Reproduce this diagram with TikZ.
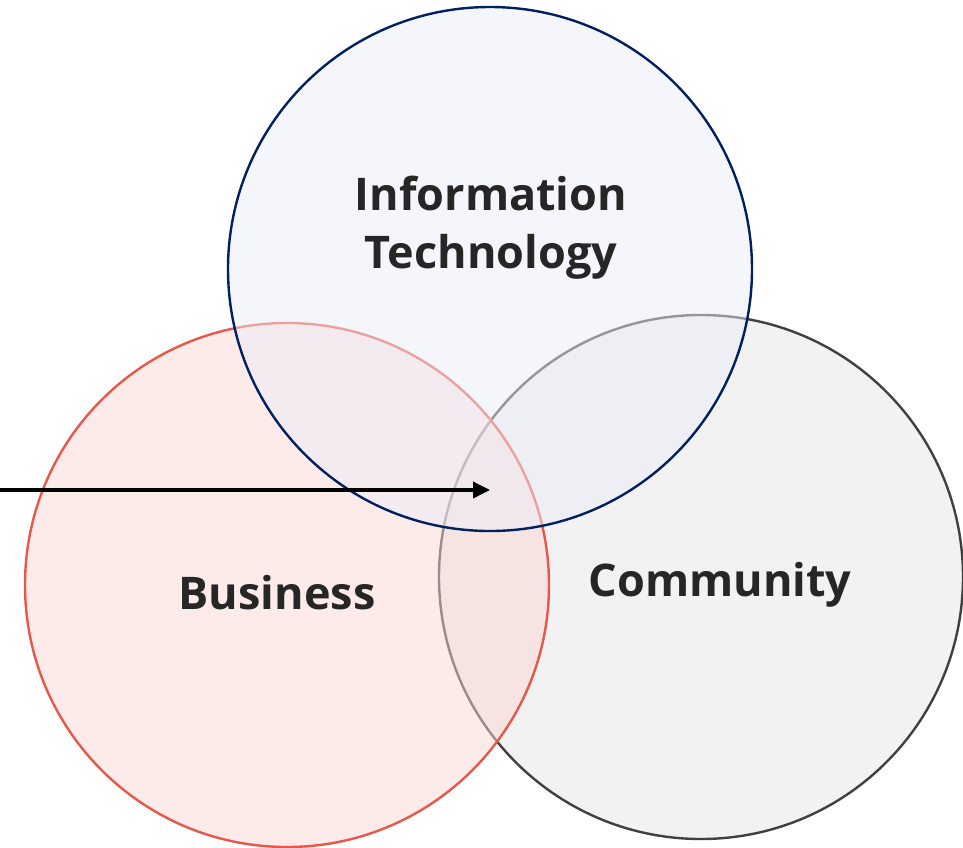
\documentclass[tikz,border=0pt]{standalone}
\usepackage{fontspec}
\newfontfamily\labfont{Open Sans}
\usetikzlibrary{arrows.meta}
\definecolor{itline}{RGB}{0,32,96}
\definecolor{itfill}{RGB}{235,237,247}
\definecolor{buline}{RGB}{232,88,74}
\definecolor{bufill}{RGB}{249,215,211}
\definecolor{coline}{RGB}{64,64,64}
\definecolor{cofill}{RGB}{229,229,229}
\definecolor{txt}{RGB}{38,38,38}
\begin{document}
\begin{tikzpicture}[x=1pt,y=-1pt,
  setc/.style={line width=2.4pt, fill opacity=0.5},
  lab/.style={font=\labfont\bfseries\fontsize{45}{58}\selectfont, text=txt, align=center, inner sep=0pt}]
\useasboundingbox (0,0) rectangle (963,847);
\path[setc, draw=coline, fill=cofill] (701,577) circle[radius=262];
\path[setc, draw=buline, fill=bufill] (287,585) circle[radius=262];
\path[setc, draw=itline, fill=itfill] (490,269) circle[radius=262];
\node[lab] (it) at (491,228) {Information\\Technology};
\node[lab] (bu) at (277,593) {Business};
\node[lab] (co) at (720,585) {Community};
\coordinate (src) at (0,490);
\coordinate (tip) at (490,490);
\draw[line width=3.5pt, -{Triangle[length=17pt,width=16pt]}] (src) -- (tip);
\end{tikzpicture}
\end{document}
